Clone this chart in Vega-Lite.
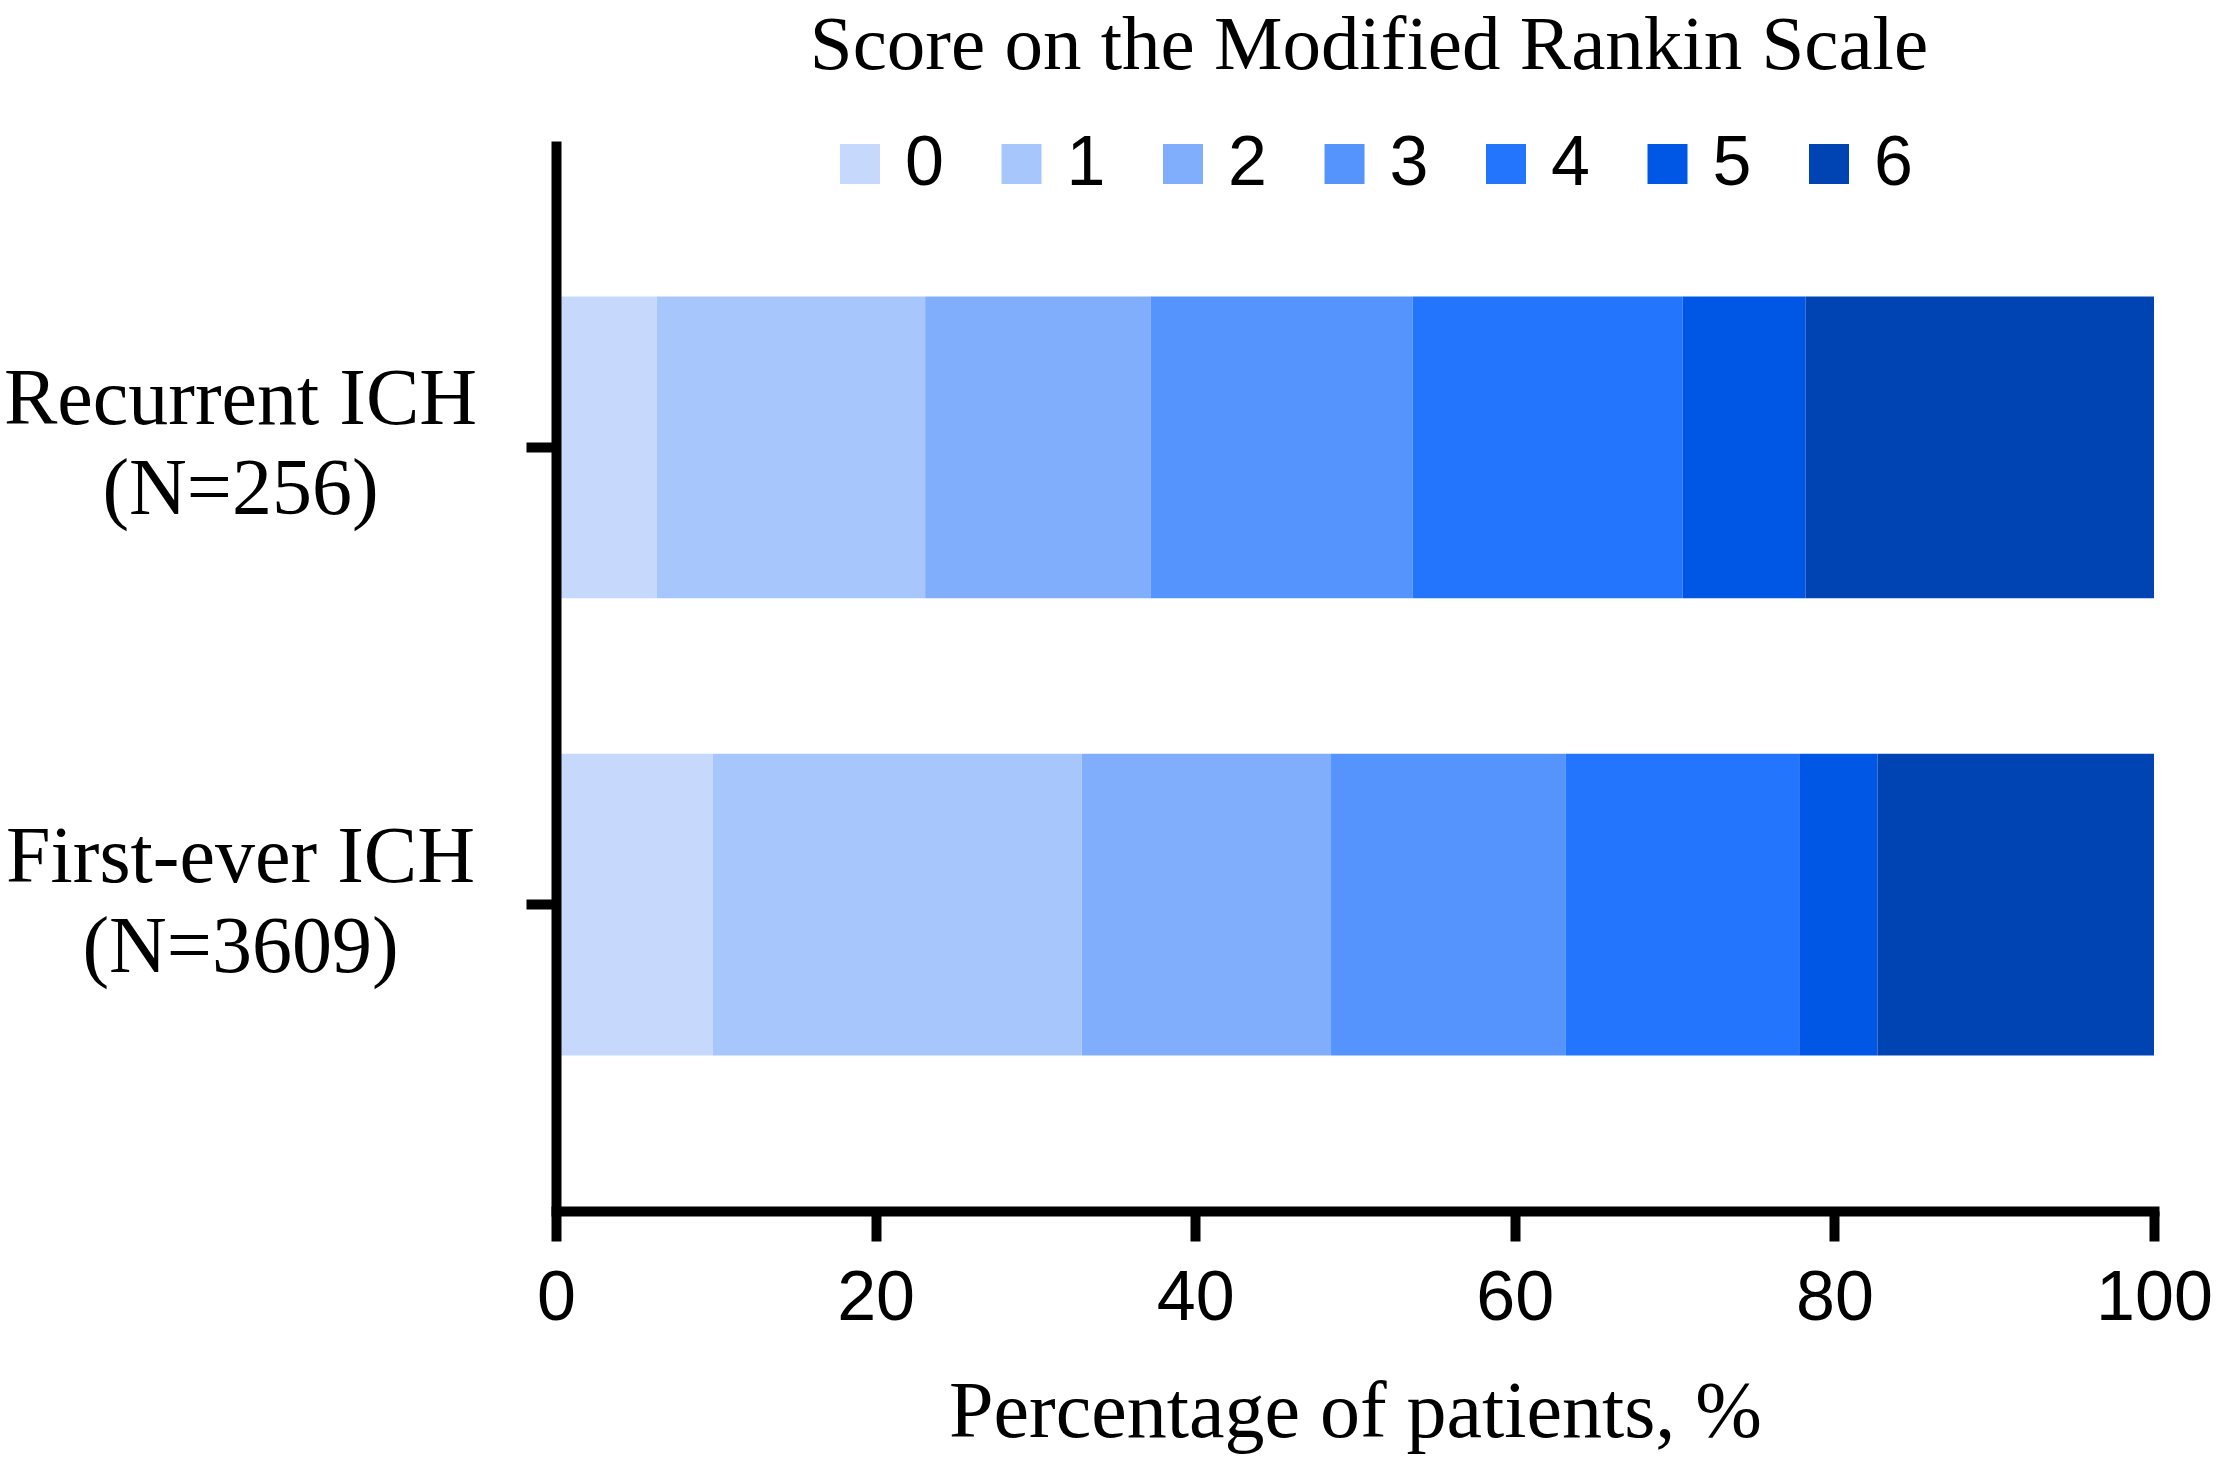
{
  "$schema": "https://vega.github.io/schema/vega-lite/v6.json",
  "width": 1598,
  "height": 1070,
  "autosize": {"type": "none"},
  "padding": {"left": 556, "top": 141, "right": 63, "bottom": 246},
  "background": "white",
  "data": {
    "values": [
      {"group": "Recurrent ICH\n(N=256)", "score": 0, "pct": 6.3},
      {"group": "Recurrent ICH\n(N=256)", "score": 1, "pct": 16.8},
      {"group": "Recurrent ICH\n(N=256)", "score": 2, "pct": 14.1},
      {"group": "Recurrent ICH\n(N=256)", "score": 3, "pct": 16.4},
      {"group": "Recurrent ICH\n(N=256)", "score": 4, "pct": 16.9},
      {"group": "Recurrent ICH\n(N=256)", "score": 5, "pct": 7.7},
      {"group": "Recurrent ICH\n(N=256)", "score": 6, "pct": 21.8},
      {"group": "First-ever ICH\n(N=3609)", "score": 0, "pct": 9.8},
      {"group": "First-ever ICH\n(N=3609)", "score": 1, "pct": 23.1},
      {"group": "First-ever ICH\n(N=3609)", "score": 2, "pct": 15.6},
      {"group": "First-ever ICH\n(N=3609)", "score": 3, "pct": 14.7},
      {"group": "First-ever ICH\n(N=3609)", "score": 4, "pct": 14.6},
      {"group": "First-ever ICH\n(N=3609)", "score": 5, "pct": 4.9},
      {"group": "First-ever ICH\n(N=3609)", "score": 6, "pct": 17.3}
    ]
  },
  "mark": {"type": "bar", "strokeWidth": 0},
  "encoding": {
    "y": {
      "field": "group",
      "type": "nominal",
      "sort": ["Recurrent ICH\n(N=256)", "First-ever ICH\n(N=3609)"],
      "scale": {"paddingInner": 0.34, "paddingOuter": 0.34},
      "axis": {
        "title": null,
        "zindex": 1,
        "domainColor": "black",
        "domainWidth": 10,
        "domainCap": "butt",
        "tickColor": "black",
        "tickWidth": 10,
        "tickSize": 30,
        "labelExpr": "split(datum.label, '\\n')",
        "labelFont": "Liberation Serif",
        "labelFontSize": 80,
        "labelColor": "black",
        "labelAlign": "center",
        "labelBaseline": "middle",
        "labelLineHeight": 90,
        "labelPadding": 286,
        "labelOffset": -47,
        "labelLimit": 2000
      }
    },
    "x": {
      "field": "pct",
      "type": "quantitative",
      "stack": "zero",
      "scale": {"domain": [0, 100], "nice": false},
      "axis": {
        "title": "Percentage of patients, %",
        "titleFont": "Liberation Serif",
        "titleFontSize": 80,
        "titleFontWeight": "normal",
        "titleColor": "black",
        "titleBaseline": "alphabetic",
        "titleY": 225,
        "zindex": 1,
        "grid": false,
        "values": [0, 20, 40, 60, 80, 100],
        "domainColor": "black",
        "domainWidth": 10,
        "domainCap": "square",
        "tickColor": "black",
        "tickWidth": 10,
        "tickSize": 30,
        "labelFont": "Liberation Sans",
        "labelFontSize": 70,
        "labelColor": "black",
        "labelPadding": 23,
        "labelFlush": false,
        "labelOverlap": false
      }
    },
    "color": {
      "field": "score",
      "type": "ordinal",
      "scale": {
        "domain": [0, 1, 2, 3, 4, 5, 6],
        "range": ["#c6d9fd", "#a7c6fc", "#80aefc", "#5694fd", "#2475fe", "#0056e5", "#0043b3"]
      },
      "legend": {
        "title": "Score on the Modified Rankin Scale",
        "titleFont": "Liberation Serif",
        "titleFontSize": 77,
        "titleFontWeight": "normal",
        "titleColor": "black",
        "titleAnchor": "middle",
        "titleOrient": "top",
        "titlePadding": 44,
        "titleLimit": 3000,
        "orient": "none",
        "direction": "horizontal",
        "legendX": 254,
        "legendY": -133,
        "padding": 0,
        "symbolType": "square",
        "symbolSize": 1600,
        "symbolStrokeWidth": 0,
        "symbolOpacity": 1,
        "labelFont": "Liberation Sans",
        "labelFontSize": 70,
        "labelColor": "black",
        "labelOffset": 10,
        "columnPadding": 42.5
      }
    },
    "order": {"field": "score", "type": "quantitative"}
  },
  "config": {
    "view": {"stroke": null},
    "axis": {"grid": false}
  }
}
